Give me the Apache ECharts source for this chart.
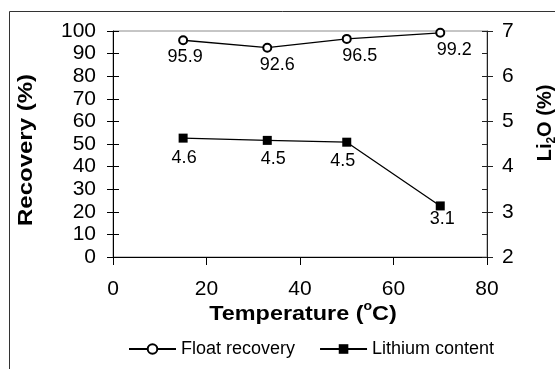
<!DOCTYPE html>
<html>
<head>
<meta charset="utf-8">
<script src="https://cdn.jsdelivr.net/npm/echarts@6/dist/echarts.min.js"></script>
<style>
  html, body { margin: 0; padding: 0; background: #fff; }
  #chart { width: 555px; height: 369px; }
</style>
</head>
<body>
<div id="chart"></div>
<script>
// values
const temperature = [15, 33, 50, 70];
const floatRecovery = [95.9, 92.6, 96.5, 99.2];
const lithiumContent = [4.63, 4.58, 4.54, 3.13];
const lithiumLabels = ["4.6", "4.5", "4.5", "3.1"];

// label nudges (px), per point
const recOffset = [[2, 3], [10, 3], [13, 3], [14, 3]];
const liOffset = [[1, 6], [6, 5], [-4, 5], [2, 0]];

const font = "Liberation Sans, Arial, sans-serif";
const black = "#000";

const chart = echarts.init(document.getElementById("chart"));

const tickAxis = (extra) => Object.assign({
  type: "value",
  axisLine: { show: false },
  axisLabel: { show: false },
  splitLine: { show: false }
}, extra);

const titleStyle = (text, rich) => ({
  text: text,
  align: "center", verticalAlign: "middle",
  fontSize: 20, fontWeight: "bold", fontFamily: font, fill: black,
  lineHeight: 26,
  rich: rich
});

const option = {
  animation: false,
  textStyle: { fontFamily: font },
  grid: {
    left: 113, right: 68, top: 31, bottom: 112,
    show: true, borderColor: "#8c8c8c", borderWidth: 1
  },
  xAxis: {
    type: "value",
    min: 0, max: 80, interval: 20,
    axisLine: { lineStyle: { color: black, width: 1 } },
    axisTick: { length: 8, lineStyle: { color: black } },
    axisLabel: { color: black, fontSize: 21, margin: 22, fontFamily: font },
    splitLine: { show: false }
  },
  yAxis: [
    {
      type: "value", position: "left",
      min: 0, max: 100, interval: 10,
      axisLine: { show: true, lineStyle: { color: black, width: 1 } },
      axisTick: { show: true, length: 6, lineStyle: { color: black } },
      axisLabel: { color: black, fontSize: 21, margin: 17, fontFamily: font },
      splitLine: { show: false }
    },
    {
      type: "value", position: "right",
      min: 2, max: 7, interval: 1,
      axisLine: { show: true, lineStyle: { color: "#222", width: 1 } },
      axisTick: { show: true, length: 6, lineStyle: { color: "#222" } },
      axisLabel: { color: black, fontSize: 21, margin: 15, fontFamily: font },
      splitLine: { show: false }
    },
    tickAxis({
      position: "left", min: 0, max: 100, interval: 10,
      axisTick: { show: true, inside: true, length: 6, lineStyle: { color: black } }
    }),
    tickAxis({
      position: "right", min: 2, max: 7, interval: 1,
      axisTick: { show: true, inside: true, length: 5, lineStyle: { color: "#222" } },
      minorTick: { show: true, splitNumber: 2, length: 5, lineStyle: { color: "#222" } }
    })
  ],
  legend: {
    left: 123, top: 335,
    itemWidth: 47, itemHeight: 12, itemGap: 24,
    textStyle: { fontSize: 18, color: black, fontFamily: font },
    data: ["Float recovery", "Lithium content"]
  },
  series: [
    {
      name: "Float recovery",
      type: "line",
      yAxisIndex: 0,
      symbol: "emptyCircle",
      symbolSize: 8,
      lineStyle: { color: black, width: 1.3 },
      itemStyle: { color: black, borderColor: black, borderWidth: 1.3 },
      label: {
        show: true, position: "bottom", distance: 0,
        fontSize: 18, color: black, fontFamily: font,
        formatter: p => String(p.value[1])
      },
      data: temperature.map((t, i) => ({
        value: [t, floatRecovery[i]],
        label: { offset: recOffset[i] }
      }))
    },
    {
      name: "Lithium content",
      type: "line",
      yAxisIndex: 1,
      symbol: "rect",
      symbolSize: 9,
      lineStyle: { color: black, width: 1.3 },
      itemStyle: { color: black },
      label: {
        show: true, position: "bottom", distance: 0,
        fontSize: 18, color: black, fontFamily: font,
        formatter: p => lithiumLabels[p.dataIndex]
      },
      data: temperature.map((t, i) => ({
        value: [t, lithiumContent[i]],
        label: { offset: liOffset[i] }
      }))
    }
  ],
  graphic: [
    // outer frame (top and left edges only)
    { type: "line", shape: { x1: 9.5, y1: 11.5, x2: 555, y2: 11.5 },
      style: { stroke: "#333", lineWidth: 1 } },
    { type: "line", shape: { x1: 9.5, y1: 11.5, x2: 9.5, y2: 369 },
      style: { stroke: "#333", lineWidth: 1 } },
    {
      type: "text", x: 303, y: 314, scaleX: 1.17,
      style: titleStyle("Temperature ({sup|o}C)", {
        sup: { fontSize: 12, fontWeight: "bold", fontFamily: font, lineHeight: 14, verticalAlign: "top" }
      })
    },
    {
      type: "text", x: 26, y: 150, rotation: Math.PI / 2, scaleX: 1.2,
      style: titleStyle("Recovery (%)")
    },
    {
      type: "text", x: 545, y: 123, rotation: Math.PI / 2,
      style: titleStyle("Li{sub|2}O (%)", {
        sub: { fontSize: 12, fontWeight: "bold", fontFamily: font, lineHeight: 14, verticalAlign: "bottom" }
      })
    }
  ]
};

chart.setOption(option);
</script>
</body>
</html>
